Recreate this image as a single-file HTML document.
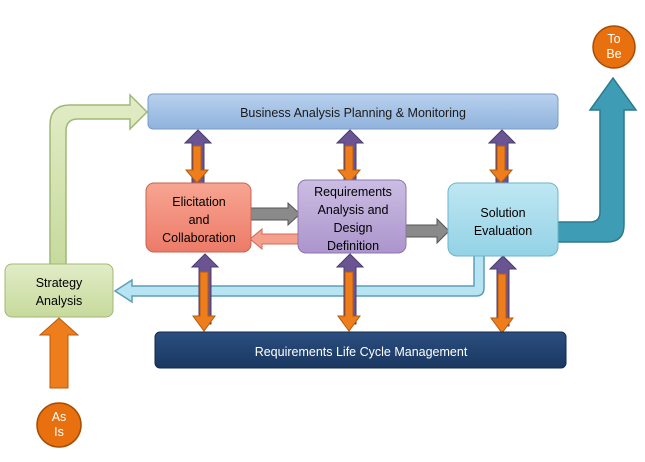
<!DOCTYPE html>
<html><head><meta charset="utf-8"><style>
body{margin:0;background:#fff}
svg{display:block}
text{font-family:"Liberation Sans",sans-serif;font-size:12.5px;text-anchor:middle}
</style></head><body>
<svg width="645" height="462" viewBox="0 0 645 462" xmlns="http://www.w3.org/2000/svg">
<defs>
<linearGradient id="gb" x1="0" y1="0" x2="0" y2="1"><stop offset="0" stop-color="#b9d1ee"/><stop offset="1" stop-color="#8fb2dc"/></linearGradient>
<linearGradient id="ge" x1="0" y1="0" x2="0" y2="1"><stop offset="0" stop-color="#f7a592"/><stop offset="1" stop-color="#ec7b68"/></linearGradient>
<linearGradient id="gr" x1="0" y1="0" x2="0" y2="1"><stop offset="0" stop-color="#cbbde3"/><stop offset="1" stop-color="#ab95cc"/></linearGradient>
<linearGradient id="gs" x1="0" y1="0" x2="0" y2="1"><stop offset="0" stop-color="#bfe7f3"/><stop offset="1" stop-color="#93d2e6"/></linearGradient>
<linearGradient id="gg" x1="0" y1="0" x2="0" y2="1"><stop offset="0" stop-color="#e2ecc6"/><stop offset="1" stop-color="#c7da9c"/></linearGradient>
<linearGradient id="gn" x1="0" y1="0" x2="0" y2="1"><stop offset="0" stop-color="#2b4f80"/><stop offset="1" stop-color="#1a3760"/></linearGradient>
<g id="d1">
<path d="M-6,13 L-13,13 L0,0 L13,13 L6,13 L6,54 L-6,54 Z" fill="#6a5592" stroke="#4b3a70"/>
<path d="M-5,16 L3,16 L3,40 L10,40 L-1,53 L-12,40 L-5,40 Z" fill="#ee7d1c" stroke="#b85a0c"/>
</g>
<g id="d2">
<path d="M-6,13 L-13,13 L0,0 L13,13 L6,13 L6,70 L-6,70 Z" fill="#6a5592" stroke="#4b3a70"/>
<path d="M-5,18 L3,18 L3,62 L10,62 L-1,77 L-12,62 L-5,62 Z" fill="#ee7d1c" stroke="#b85a0c"/>
</g>
</defs>
<path d="M50,266 L50,125 Q50,105 70,105 L130,105 L130,95 L147,112 L130,129 L130,119 L78,119 Q66,119 66,131 L66,266 Z" fill="url(#gg)" stroke="#9fb877" stroke-width="1.5"/>
<path d="M555,222 L590,222 Q600,222 600,212 L600,110 L590,110 L613,78 L636,110 L624,110 L624,225 Q624,242 607,242 L555,242 Z" fill="#3f9cb5" stroke="#2d7a8f" stroke-width="1.5"/>
<path d="M474,250 L484,250 L484,288 Q484,296 476,296 L132,296 L132,302 L115,291 L132,280 L132,286 L474,286 Z" fill="#b7e4f2" stroke="#5d9eb7" stroke-width="1.5"/>
<path d="M50,388 L50,335 L40,335 L59,318 L78,335 L68,335 L68,388 Z" fill="#ee7d1c" stroke="#b85a0c"/>
<rect x="148" y="94" width="410" height="35" rx="5" fill="url(#gb)" stroke="#7b9cc4"/>
<text x="353" y="117" fill="#1a1a1a">Business Analysis Planning &amp; Monitoring</text>
<use href="#d1" x="198" y="130"/>
<use href="#d1" x="350" y="130"/>
<use href="#d1" x="502" y="130"/>
<use href="#d2" x="205" y="254"/>
<use href="#d2" x="350" y="254"/>
<use href="#d2" x="503" y="256"/>
<rect x="155" y="332" width="411" height="36" rx="5" fill="url(#gn)" stroke="#122a4a"/>
<text x="361" y="356" fill="#fff">Requirements Life Cycle Management</text>
<path d="M246,208 L288,208 L288,203 L300,214 L288,225 L288,220 L246,220 Z" fill="#8a8a8a" stroke="#555"/>
<path d="M404,225 L437,225 L437,219 L449,231 L437,243 L437,237 L404,237 Z" fill="#8a8a8a" stroke="#555"/>
<path d="M302,234 L262,234 L262,229 L250,239 L262,249 L262,244 L302,244 Z" fill="#f4a08c" stroke="#d06a58"/>
<rect x="146" y="183" width="105" height="69" rx="8" fill="url(#ge)" stroke="#c96350"/>
<text x="199" y="206">Elicitation</text><text x="199" y="224">and</text><text x="199" y="242">Collaboration</text>
<rect x="298" y="180" width="108" height="73" rx="8" fill="url(#gr)" stroke="#8c77ae"/>
<text x="353" y="196">Requirements</text><text x="353" y="214">Analysis and</text><text x="353" y="232">Design</text><text x="353" y="250">Definition</text>
<rect x="448" y="183" width="110" height="73" rx="9" fill="url(#gs)" stroke="#6bb5cc"/>
<text x="503" y="217">Solution</text><text x="503" y="235">Evaluation</text>
<rect x="5" y="264" width="108" height="53" rx="7" fill="url(#gg)" stroke="#9fb877"/>
<text x="59" y="287">Strategy</text><text x="59" y="305">Analysis</text>
<circle cx="59" cy="425" r="22" fill="#e8700f" stroke="#a64d05" stroke-width="1.5"/>
<text x="59" y="421" fill="#fff" font-size="11">As</text><text x="59" y="436" fill="#fff" font-size="11">Is</text>
<circle cx="614" cy="47" r="21" fill="#e8700f" stroke="#a64d05" stroke-width="1.5"/>
<text x="614" y="43" fill="#fff" font-size="11">To</text><text x="614" y="58" fill="#fff" font-size="11">Be</text>
</svg>
</body></html>
